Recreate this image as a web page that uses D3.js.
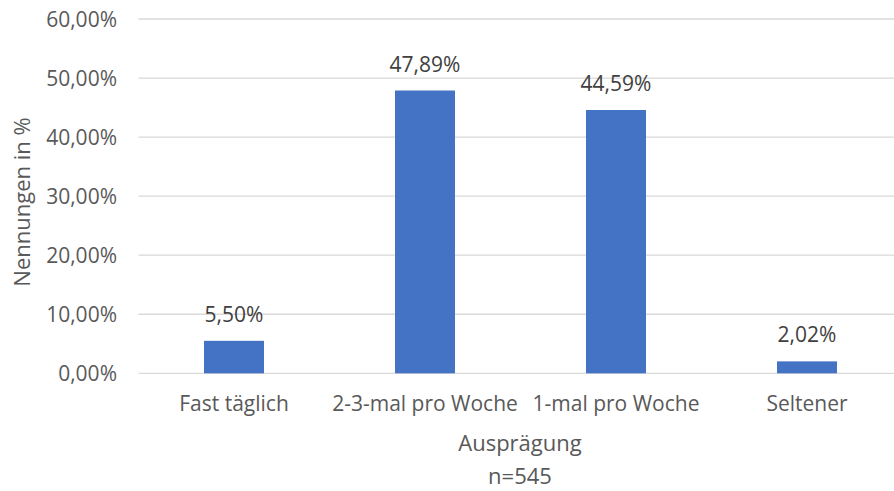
<!DOCTYPE html>
<html>
<head>
<meta charset="utf-8">
<script src="https://cdn.jsdelivr.net/npm/d3@7"></script>
<style>
  body { margin: 0; background: #fff; }
  svg text { font-family: "Open Sans", "Noto Sans", sans-serif; }
  .tick text { fill: #595959; font-size: 21px; }
  .lbl { fill: #404040; font-size: 21px; }
  .title { fill: #595959; font-size: 22px; }
</style>
</head>
<body>
<div class="canvas"></div>
<script>
// data
var categories = ["Fast täglich", "2-3-mal pro Woche", "1-mal pro Woche", "Seltener"];
var values = [5.50, 47.89, 44.59, 2.02];
var yTicks = [0, 10, 20, 30, 40, 50, 60];

var svg = d3.select(".canvas")
  .append("svg")
  .attr("width", 894)
  .attr("height", 491);

var x = d3.scaleBand()
  .domain(categories)
  .range([138.5, 902.5])
  .paddingInner(0.686)
  .paddingOuter(0.343);

var y = d3.scaleLinear()
  .domain([0, 60])
  .range([373.3, 19]);

var fmt = function(v){ return d3.format(".2f")(v).replace(".", ",") + "%"; };

// gridlines
svg.append("g")
  .selectAll("line")
  .data(yTicks)
  .enter().append("line")
  .attr("x1", 138.5)
  .attr("x2", 902.5)
  .attr("y1", function(d){ return y(d); })
  .attr("y2", function(d){ return y(d); })
  .attr("stroke", "#d9d9d9")
  .attr("stroke-width", 1.3);

// y axis labels
var yAxis = svg.append("g")
  .attr("transform", "translate(117,0)")
  .call(d3.axisLeft(y).tickValues(yTicks).tickSize(0).tickFormat(fmt));
yAxis.select(".domain").remove();
yAxis.selectAll("text").attr("dy", "0.35em").attr("x", 0);

// bars
svg.append("g")
  .selectAll("rect")
  .data(values)
  .enter().append("rect")
  .attr("x", function(d, i){ return x(categories[i]); })
  .attr("width", x.bandwidth())
  .attr("y", function(d){ return y(d); })
  .attr("height", function(d){ return y(0) - y(d); })
  .attr("fill", "#4472c4");

// value labels
svg.append("g")
  .selectAll("text")
  .data(values)
  .enter().append("text")
  .attr("class", "lbl")
  .attr("x", function(d, i){ return x(categories[i]) + x.bandwidth() / 2; })
  .attr("y", function(d){ return y(d) - 19; })
  .attr("text-anchor", "middle")
  .text(fmt);

// x axis labels
var xAxis = svg.append("g")
  .attr("transform", "translate(0," + y(0) + ")")
  .call(d3.axisBottom(x).tickSize(0));
xAxis.select(".domain").remove();
xAxis.selectAll("text").attr("y", 38).attr("dy", null);

// axis titles
svg.append("text")
  .attr("class", "title")
  .attr("x", 520)
  .attr("y", 451)
  .attr("text-anchor", "middle")
  .text("Ausprägung");

svg.append("text")
  .attr("class", "title")
  .attr("x", 520)
  .attr("y", 484)
  .attr("text-anchor", "middle")
  .text("n=545");

svg.append("text")
  .attr("class", "title")
  .attr("transform", "translate(30,202) rotate(-90)")
  .attr("text-anchor", "middle")
  .text("Nennungen in %");
</script>
</body>
</html>
